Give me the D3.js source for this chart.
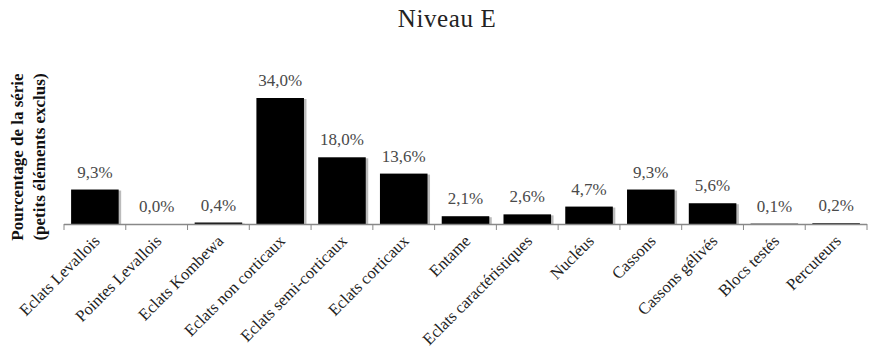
<!DOCTYPE html>
<html>
<head>
<meta charset="utf-8">
<script src="https://cdn.jsdelivr.net/npm/d3@7"></script>
<style>
  body { margin: 0; background: #fff; }
  text { font-family: "Liberation Serif", "DejaVu Serif", serif; }
</style>
</head>
<body>
<div id="chart"></div>
<script>
const categories = ["Eclats Levallois", "Pointes Levallois", "Eclats Kombewa", "Eclats non corticaux",
  "Eclats semi-corticaux", "Eclats corticaux", "Entame", "Eclats caractéristiques", "Nucléus",
  "Cassons", "Cassons gélivés", "Blocs testés", "Percuteurs"];
const values = [9.3, 0.0, 0.4, 34.0, 18.0, 13.6, 2.1, 2.6, 4.7, 9.3, 5.6, 0.1, 0.2];
const title = "Niveau E";
const yLabel = ["Pourcentage de la série", "(petits éléments exclus)"];

const width = 869;
const height = 358;

const svg = d3.select("#chart")
  .append("svg")
    .attr("width", width)
    .attr("height", height);

// scales
const x = d3.scaleBand()
  .domain(categories)
  .range([64, 867])
  .paddingInner(0.23)
  .paddingOuter(0.115);

const y = d3.scaleLinear()
  .domain([0, 34])
  .range([224, 98]);

// title
svg.append("text")
  .attr("x", 447)
  .attr("y", 27)
  .attr("text-anchor", "middle")
  .style("font-size", "25px")
  .style("letter-spacing", "0.6px")
  .style("fill", "#222")
  .text(title);

// y label
const yl = svg.append("text")
  .attr("transform", "translate(23,157) rotate(-90)")
  .attr("text-anchor", "middle")
  .style("font-size", "17px")
  .style("font-weight", "bold")
  .style("fill", "#111");
yLabel.forEach((t, i) => {
  yl.append("tspan").attr("x", 0).attr("dy", i === 0 ? 0 : 22).text(t);
});

// bar shadows
svg.selectAll("rect.shadow")
  .data(values)
  .join("rect")
    .attr("class", "shadow")
    .attr("x", (d, i) => x(categories[i]) + 1.5)
    .attr("y", (d) => y(d) + 1)
    .attr("width", x.bandwidth() + 1)
    .attr("height", (d) => y(0) - y(d))
    .style("fill", "#bbb");

// bars
svg.selectAll("rect.bar")
  .data(values)
  .join("rect")
    .attr("class", "bar")
    .attr("x", (d, i) => x(categories[i]))
    .attr("y", (d) => y(d))
    .attr("width", x.bandwidth())
    .attr("height", (d) => y(0) - y(d))
    .style("fill", "#000");

// value labels
svg.selectAll("text.val")
  .data(values)
  .join("text")
    .attr("class", "val")
    .attr("x", (d, i) => x(categories[i]) + x.bandwidth() / 2)
    .attr("y", (d) => y(d) - 12)
    .attr("text-anchor", "middle")
    .style("font-size", "17px")
    .style("fill", "#4a4a4a")
    .text((d) => d.toFixed(1).replace(".", ",") + "%");

// x axis
const axis = svg.append("g");
axis.append("line")
  .attr("x1", 64).attr("x2", 867)
  .attr("y1", 224.5).attr("y2", 224.5)
  .style("stroke", "#888")
  .style("stroke-width", 1.5);

// ticks at the band boundaries
const bounds = d3.range(categories.length + 1).map((i) => x.range()[0] + i * x.step());
axis.selectAll("line.tick")
  .data(bounds)
  .join("line")
    .attr("class", "tick")
    .attr("x1", (d) => d).attr("x2", (d) => d)
    .attr("y1", 224).attr("y2", 230)
    .style("stroke", "#888");

axis.selectAll("text.cat")
  .data(categories)
  .join("text")
    .attr("class", "cat")
    .attr("text-anchor", "end")
    .attr("transform", (d) => `translate(${x(d) + x.bandwidth() / 2 + 6},${242}) rotate(-45)`)
    .style("font-size", "16.5px")
    .style("fill", "#222")
    .text((d) => d);
</script>
</body>
</html>
